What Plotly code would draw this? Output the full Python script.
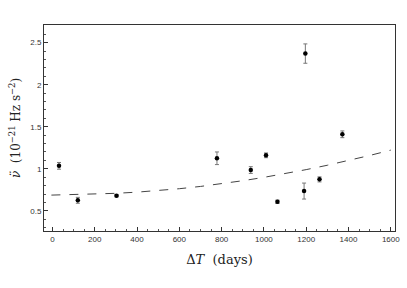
import plotly.graph_objects as go

# Observed points
delta_t = [31, 120, 303, 778, 938, 1010, 1064, 1190, 1196, 1263, 1371]
nu_ddot = [1.035, 0.625, 0.68, 1.125, 0.985, 1.16, 0.607, 0.735, 2.37, 0.874, 1.41]
nu_err = [0.04, 0.035, 0.012, 0.075, 0.04, 0.028, 0.02, 0.095, 0.115, 0.03, 0.04]

# Dashed model curve
curve_t = [-5, 100, 200, 300, 400, 500, 600, 700, 800, 900, 1000, 1100, 1200, 1300, 1400, 1500, 1600]
curve_v = [0.687, 0.692, 0.698, 0.708, 0.722, 0.741, 0.763, 0.790, 0.822, 0.858, 0.898, 0.942, 0.990, 1.042, 1.098, 1.158, 1.222]

x_ticks = [0, 200, 400, 600, 800, 1000, 1200, 1400, 1600]
y_ticks = [0.5, 1, 1.5, 2, 2.5]
y_ticklabels = ["0.5", "1", "1.5", "2", "2.5"]

fig = go.Figure()
fig.add_trace(go.Scatter(
    x=curve_t, y=curve_v, mode="lines",
    line=dict(color="#444444", width=1, dash="dash"),
    hoverinfo="skip", showlegend=False))
fig.add_trace(go.Scatter(
    x=delta_t, y=nu_ddot, mode="markers",
    marker=dict(color="black", size=4.5),
    error_y=dict(type="data", array=nu_err, visible=True,
                 color="#777777", thickness=1, width=2),
    showlegend=False))

tick_font = dict(family="Liberation Sans, Arial, sans-serif", size=8, color="#333333")
title_font = dict(family="DejaVu Serif, serif", size=13, color="#222222")
ytitle_font = dict(family="DejaVu Serif, serif", size=12, color="#222222")

fig.update_layout(
    width=407, height=288,
    margin=dict(l=44, r=7, t=25, b=57),
    paper_bgcolor="white", plot_bgcolor="white",
    xaxis=dict(
        range=[-40, 1620], tickvals=x_ticks, ticktext=[str(v) for v in x_ticks],
        ticks="inside", ticklen=4, tickcolor="#333333", tickwidth=1,
        minor=dict(dtick=50, ticks="inside", ticklen=2, tickcolor="#555555", showgrid=False),
        showline=True, linecolor="#333333", linewidth=1, mirror=True,
        showgrid=False, zeroline=False, tickfont=tick_font,
        title=dict(text="Δ<i>T</i>&nbsp;&nbsp;(days)", font=title_font, standoff=12),
    ),
    yaxis=dict(
        range=[0.26, 2.71], tickvals=y_ticks, ticktext=y_ticklabels,
        ticks="inside", ticklen=4, tickcolor="#333333", tickwidth=1,
        minor=dict(dtick=0.1, ticks="inside", ticklen=2, tickcolor="#555555", showgrid=False),
        showline=True, linecolor="#333333", linewidth=1, mirror=True,
        showgrid=False, zeroline=False, tickfont=tick_font,
        title=dict(text="<i>ν̈</i>&nbsp;&nbsp;(10<sup>−21</sup>&nbsp;Hz&nbsp;s<sup>−2</sup>)",
                   font=ytitle_font, standoff=7),
    ),
)

fig.write_html("out.html", config={"displayModeBar": False},
               post_script="document.body.style.margin='0';document.body.style.padding='0';")
